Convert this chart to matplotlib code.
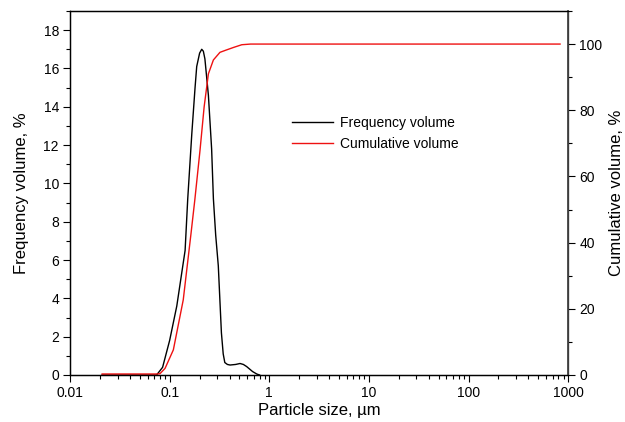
import numpy as np
import matplotlib
matplotlib.use('Agg')
import matplotlib.pyplot as plt
from matplotlib.ticker import LogLocator, FixedLocator, MultipleLocator, FuncFormatter

plt.rcParams['font.family'] = ['Liberation Sans', 'DejaVu Sans']

# frequency volume (%) vs particle size (um)
freq_size = [0.021, 0.05, 0.074, 0.085, 0.1, 0.118, 0.143, 0.152, 0.167, 0.18, 0.187, 0.2, 0.21,
             0.218, 0.226, 0.245, 0.264, 0.275, 0.29, 0.308, 0.331, 0.345, 0.358, 0.38, 0.404,
             0.46, 0.509, 0.55, 0.593, 0.68, 0.75, 0.8]
freq_vol = [0.0, 0.0, 0.0, 0.4, 1.8, 3.6, 6.5, 9.2, 12.6, 15.0, 16.1, 16.8, 17.0,
            16.9, 16.5, 14.6, 11.8, 9.2, 7.3, 5.7, 2.2, 1.1, 0.65, 0.55, 0.52,
            0.55, 0.6, 0.55, 0.44, 0.18, 0.05, 0.0]

# cumulative volume (%)
cum_size = [0.021, 0.05, 0.075, 0.08, 0.09, 0.109, 0.137, 0.164, 0.179, 0.202, 0.222,
            0.245, 0.275, 0.32, 0.37, 0.44, 0.53, 0.65, 1.0, 10, 100, 830]
cum_vol = [0.3, 0.3, 0.3, 0.4, 2.0, 7.6, 22.7, 42.8, 52.9, 68.0, 81.0,
           91.0, 95.2, 97.5, 98.2, 99.0, 99.8, 100, 100, 100, 100, 100]

fig = plt.figure(figsize=(6.25, 4.22), dpi=100)
ax = fig.add_axes([0.112, 0.1114, 0.797, 0.8626])
ax2 = ax.twinx()

l1, = ax.plot(freq_size, freq_vol, color='black', lw=1.0, label='Frequency volume')
l2, = ax2.plot(cum_size, cum_vol, color='#ee1111', lw=1.0, label='Cumulative volume')

ax.set_xscale('log')
ax.set_xlim(0.01, 1000)
ax.set_ylim(0, 19)
ax2.set_ylim(0, 110)

ax.xaxis.set_major_locator(LogLocator(base=10, numticks=10))
ax.xaxis.set_minor_locator(LogLocator(base=10, subs=np.arange(2, 10), numticks=50))
ax.xaxis.set_major_formatter(FuncFormatter(lambda v, p: ('%g' % v)))
ax.yaxis.set_major_locator(FixedLocator(np.arange(0, 19, 2)))
ax.yaxis.set_minor_locator(MultipleLocator(1))
ax2.yaxis.set_major_locator(FixedLocator(np.arange(0, 101, 20)))
ax2.yaxis.set_minor_locator(MultipleLocator(10))

for a in (ax, ax2):
    a.tick_params(which='major', direction='out', length=5, width=0.8, labelsize=10, pad=3)
    a.tick_params(which='minor', direction='out', length=3, width=0.8)
    for s in a.spines.values():
        s.set_linewidth(0.9)
ax.tick_params(axis='y', right=False)
ax2.spines['right'].set_linewidth(1.3)
ax2.spines['right'].set_color('#444444')

ax.set_xlabel('Particle size, µm', fontsize=12, labelpad=2)
ax.set_ylabel('Frequency volume, %', fontsize=12, labelpad=10)
ax2.set_ylabel('Cumulative volume, %', fontsize=12, labelpad=5)

ax.legend(handles=[l1, l2], loc='upper left', bbox_to_anchor=(0.42, 0.745), frameon=False,
          fontsize=10, handlelength=3.0, handletextpad=0.5, labelspacing=0.5)

fig.savefig('out.png', dpi=100)
